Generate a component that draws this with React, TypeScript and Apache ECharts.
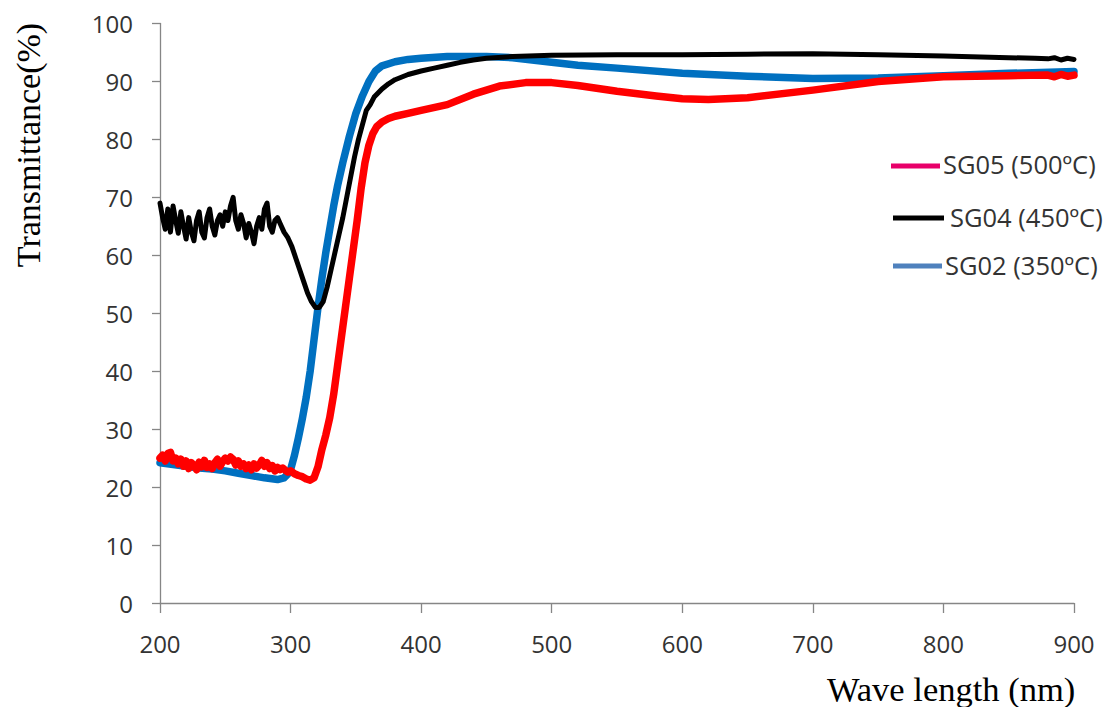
import React, { useEffect, useRef } from "react";
import * as echarts from "echarts";

// SG02 (350ºC) – blue
const sg02Wl = [200, 210, 220, 230, 240, 250, 260, 270, 280, 290, 295, 298, 300, 303, 306, 309, 312, 315, 318, 321, 324, 327, 330, 333, 336, 340, 345, 350, 355, 360, 365, 370, 380, 390, 400, 420, 450, 470, 500, 520, 550, 600, 650, 700, 750, 800, 850, 900];
const sg02T = [24.2, 23.9, 23.6, 23.3, 23.1, 22.8, 22.4, 22.0, 21.6, 21.3, 21.6, 22.3, 23.0, 25.5, 28.5, 31.8, 35.5, 40.0, 45.5, 51.0, 56.0, 60.5, 64.5, 68.5, 72.0, 76.0, 80.5, 84.5, 87.5, 90.0, 91.8, 92.7, 93.4, 93.8, 94.0, 94.3, 94.3, 94.1, 93.3, 92.8, 92.3, 91.4, 90.9, 90.5, 90.6, 91.0, 91.4, 91.7];

// SG04 (450ºC) – black
const sg04Wl = [200, 202, 204, 206, 208, 210, 212, 214, 216, 218, 220, 222, 224, 226, 228, 230, 232, 234, 236, 238, 240, 242, 244, 246, 248, 250, 252, 254, 256, 258, 260, 262, 264, 266, 268, 270, 272, 274, 276, 278, 280, 282, 284, 286, 288, 290, 292, 295, 298, 301, 304, 307, 310, 313, 316, 319, 322, 325, 328, 331, 334, 337, 340, 343, 346, 349, 352, 355, 358, 361, 364, 367, 370, 375, 380, 390, 400, 410, 420, 430, 440, 450, 470, 500, 550, 600, 650, 700, 750, 800, 850, 870, 880, 885, 890, 895, 900];
const sg04T = [69, 66.5, 64.5, 68, 64, 68.5, 66, 63.8, 67.5, 65, 62.8, 66.5, 64, 62.5, 66, 67.5, 64, 63, 66.5, 68, 65, 63.5, 66, 67, 65, 67.5, 66, 68.5, 70, 66, 64.5, 67, 65.5, 63, 65.5, 64, 62, 65, 66.5, 64.5, 68, 69, 65, 64, 66, 66.5, 65.5, 64, 63, 61.5, 59.5, 57.5, 55.5, 53.5, 52, 51, 51, 52, 54.5, 57.5, 60.5, 63.5, 66.5, 70, 73.5, 77, 80, 82.5, 85, 86, 87.3, 88, 88.7, 89.6, 90.3, 91.2, 91.8, 92.3, 92.8, 93.3, 93.7, 94.0, 94.3, 94.5, 94.6, 94.6, 94.7, 94.8, 94.6, 94.4, 94.1, 94.0, 93.9, 94.1, 93.7, 94.0, 93.8];

// SG05 (500ºC) – red
const sg05Wl = [200, 202, 204, 206, 208, 210, 212, 214, 216, 218, 220, 222, 224, 226, 228, 230, 232, 234, 236, 238, 240, 242, 244, 246, 248, 250, 252, 254, 256, 258, 260, 262, 264, 266, 268, 270, 272, 274, 276, 278, 280, 282, 284, 286, 288, 290, 292, 294, 296, 298, 300, 303, 306, 309, 312, 315, 318, 321, 324, 327, 330, 333, 336, 339, 342, 345, 348, 351, 354, 357, 360, 363, 366, 370, 375, 380, 390, 400, 420, 440, 460, 480, 500, 520, 550, 580, 600, 620, 650, 700, 750, 800, 850, 880, 885, 890, 895, 900];
const sg05T = [25, 25.5, 24.5, 25.8, 26, 24.5, 25, 24, 24.8, 23.6, 24.5, 23.2, 24.2, 23.8, 23, 24.3, 23.5, 24.6, 23.4, 24, 23.2, 24.2, 24.8, 23.6, 24.4, 25, 24.5, 25.2, 24.8, 23.8, 24.5, 23.6, 24, 23.2, 23.8, 23, 24, 23.3, 23.8, 24.6, 23.6, 24.2, 23.2, 23.7, 22.8, 23.4, 23, 23.3, 22.9, 22.6, 22.8, 22.3, 22, 21.8, 21.4, 21.2, 21.6, 23.5, 26.5, 29, 32, 36, 41, 46, 51, 56, 61, 66, 71.5, 76, 79, 81, 82.2, 83, 83.6, 84, 84.5, 85, 86, 87.8, 89.2, 89.8, 89.8, 89.3, 88.3, 87.5, 87.0, 86.9, 87.2, 88.5, 90.0, 90.8, 91.0, 91.1, 90.8, 91.2, 90.9, 91.1];

const xTicks = [200, 300, 400, 500, 600, 700, 800, 900];
const yTicks = [0, 10, 20, 30, 40, 50, 60, 70, 80, 90, 100];

const legendNames = ["SG05 (500ºC)", "SG04 (450ºC)", "SG02 (350ºC)"];
const legendColors = ["#e8006a", "#000000", "#4f81bd"];

const zip = (a: number[], b: number[]) => a.map((v, i) => [v, b[i]]);

export default function App() {
  const ref = useRef<HTMLDivElement>(null);
  useEffect(() => {
    if (!ref.current) return;
    const chart = echarts.init(ref.current, null, { renderer: "svg" });
    const labelFont = { fontFamily: "Open Sans", fontSize: 24, color: "#333333" };
    const lineBase = { type: "line", showSymbol: false, symbol: "none", smooth: false };
    chart.setOption({
      animation: false,
      grid: { left: 160, right: 43, top: 23.5, bottom: 104, containLabel: false },
      xAxis: {
        type: "value",
        min: xTicks[0],
        max: xTicks[xTicks.length - 1],
        interval: 100,
        axisLine: { show: true, lineStyle: { color: "#868686", width: 1.3 } },
        axisTick: { show: true, inside: false, length: 10, lineStyle: { color: "#868686", width: 1.3 } },
        axisLabel: { ...labelFont, margin: 28 },
        splitLine: { show: false },
      },
      yAxis: {
        type: "value",
        min: yTicks[0],
        max: yTicks[yTicks.length - 1],
        interval: 10,
        axisLine: { show: true, lineStyle: { color: "#868686", width: 1.3 } },
        axisTick: { show: true, inside: false, length: 8, lineStyle: { color: "#868686", width: 1.3 } },
        axisLabel: { ...labelFont, margin: 27 },
        splitLine: { show: false },
      },
      series: [
        { ...lineBase, name: legendNames[2], data: zip(sg02Wl, sg02T), lineStyle: { color: "#0070c0", width: 7.5, cap: "round", join: "round" } },
        { ...lineBase, name: legendNames[1], data: zip(sg04Wl, sg04T), lineStyle: { color: "#000000", width: 5, cap: "round", join: "round" } },
        { ...lineBase, name: legendNames[0], data: zip(sg05Wl, sg05T), lineStyle: { color: "#ff0000", width: 7.5, cap: "round", join: "round" } },
      ],
      graphic: [
        {
          type: "text",
          x: 28,
          y: 145,
          rotation: Math.PI / 2,
          style: { text: "Transmittance(%)", fontFamily: "Liberation Serif", fontSize: 34, fill: "#000", align: "center", verticalAlign: "middle" },
        },
        {
          type: "text",
          x: 827,
          y: 689,
          style: { text: "Wave length (nm)", fontFamily: "Liberation Serif", fontSize: 34.5, fill: "#000", align: "left", verticalAlign: "middle" },
        },
        { type: "line", shape: { x1: 891, y1: 166, x2: 940, y2: 166 }, style: { stroke: legendColors[0], lineWidth: 5 } },
        { type: "text", x: 943, y: 164, style: { text: legendNames[0], fontFamily: "Open Sans", fontSize: 25.5, fill: "#333333", align: "left", verticalAlign: "middle" } },
        { type: "line", shape: { x1: 893, y1: 218, x2: 944, y2: 218 }, style: { stroke: legendColors[1], lineWidth: 5 } },
        { type: "text", x: 950, y: 217, style: { text: legendNames[1], fontFamily: "Open Sans", fontSize: 25.5, fill: "#333333", align: "left", verticalAlign: "middle" } },
        { type: "line", shape: { x1: 893, y1: 266, x2: 942, y2: 266 }, style: { stroke: legendColors[2], lineWidth: 5 } },
        { type: "text", x: 945, y: 265, style: { text: legendNames[2], fontFamily: "Open Sans", fontSize: 25.5, fill: "#333333", align: "left", verticalAlign: "middle" } },
      ],
    });
    return () => chart.dispose();
  }, []);
  return <div ref={ref} style={{ position: "fixed", left: 0, top: 0, width: 1117, height: 707, background: "#fff" }} />;
}
